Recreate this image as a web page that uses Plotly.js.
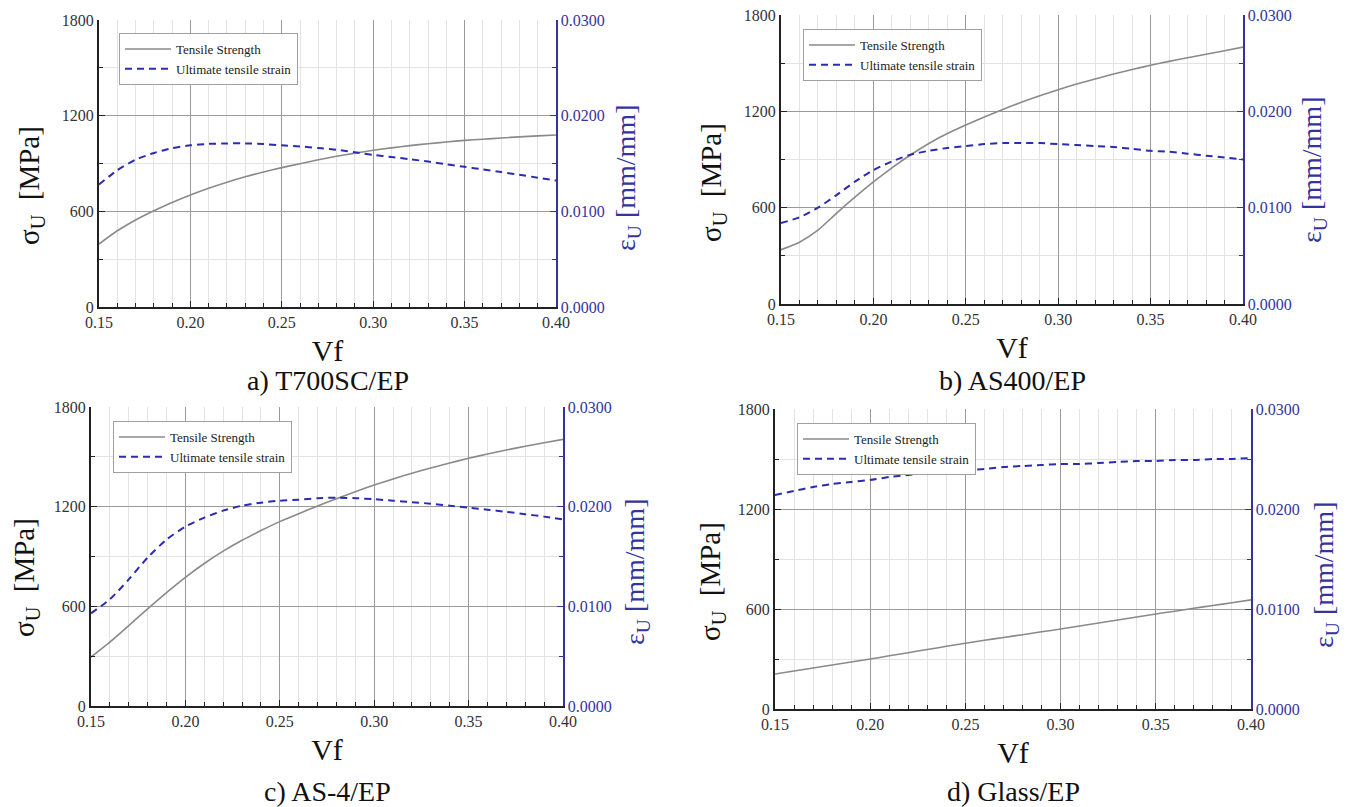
<!DOCTYPE html>
<html><head><meta charset="utf-8">
<script src="https://cdn.plot.ly/plotly-3.0.1.min.js"></script>
<style>html,body{margin:0;padding:0;background:#fff}</style>
</head><body><div id="chart" style="width:1356px;height:807px"></div>
<script>
// ---------------- data ----------------
const vf = [0.15,0.16,0.17,0.18,0.19,0.20,0.21,0.22,0.23,0.24,0.25,0.26,0.27,0.28,0.29,0.30,0.31,0.32,0.33,0.34,0.35,0.36,0.37,0.38,0.39,0.40];

const strengthA = [395,478,546,604,656,703,745,783,817,847,874,899,923,945,965,983,998,1012,1024,1035,1045,1052,1060,1067,1073,1079];
const strainA   = [0.0128,0.0143,0.0154,0.0161,0.0166,0.0169,0.01705,0.0171,0.0171,0.01703,0.0169,0.01678,0.01662,0.01643,0.01618,0.0159,0.01568,0.01545,0.0152,0.01492,0.01465,0.01438,0.0141,0.01382,0.01352,0.01322];

const strengthB = [338,385,460,565,665,760,848,928,1000,1062,1115,1165,1212,1256,1297,1335,1370,1402,1432,1460,1487,1511,1534,1556,1577,1600];
const strainB   = [0.0084,0.0090,0.0100,0.0113,0.0127,0.0139,0.0148,0.0155,0.0159,0.0162,0.0164,0.0166,0.0167,0.0167,0.0167,0.0166,0.0165,0.0164,0.0163,0.0161,0.0159,0.0158,0.0156,0.0154,0.0152,0.0150];

const strengthC = [295,385,484,585,683,775,858,932,998,1056,1110,1158,1204,1248,1290,1330,1367,1401,1433,1463,1491,1517,1541,1564,1585,1605];
const strainC   = [0.0093,0.0107,0.0127,0.0149,0.0167,0.0180,0.0189,0.0196,0.0201,0.0204,0.0206,0.0207,0.02085,0.0209,0.02085,0.02075,0.0206,0.02045,0.0203,0.0201,0.0199,0.0197,0.01948,0.01925,0.0190,0.01873];

const strengthD = [210,228,246,264,282,300,319,338,357,376,395,412,429,446,463,480,498,516,534,552,570,587,604,621,638,655];
const strainD   = [0.0214,0.0218,0.0222,0.0225,0.0227,0.0229,0.0232,0.0234,0.0236,0.0238,0.0239,0.0240,0.0242,0.0243,0.0244,0.0245,0.0245,0.0246,0.0247,0.0248,0.0248,0.0249,0.0249,0.0250,0.0250,0.0251];

const panelLabels = ['a) T700SC/EP','b) AS400/EP','c) AS-4/EP','d) Glass/EP'];
const seriesNames = ['Tensile Strength','Ultimate tensile strain'];
const xTickVals = [0.15,0.20,0.25,0.30,0.35,0.40];
const xTickText = ['0.15','0.20','0.25','0.30','0.35','0.40'];
const yTickVals = [0,600,1200,1800];
const yTickText = ['0','600','1200','1800'];
const y2TickVals = [0,0.01,0.02,0.03];
const y2TickText = ['0.0000','0.0100','0.0200','0.0300'];
const xTitle = 'Vf';
const yTitle = 'σ<sub>U</sub>  [MPa]';
const y2Title = 'ε<sub>U</sub> [mm/mm]';

// ---------------- layout ----------------
const W = 1356, H = 807;
// pixel boxes [left, right, top, bottom] of each panel
const boxes = [[99,556,20,307],[781,1243,15,304],[91,563,407,706],[775,1251,409,709]];
const legendPos = [[119,33],[803,29],[113,421],[797,423]];
// pixel centres of the rotated y titles: [leftX, leftY, rightX, rightY]
const yTitlePos = [[31,186,628,178],[713,182,1314,170],[26,578,636,572],[712,582,1325,575]];
const strength = [strengthA,strengthB,strengthC,strengthD];
const strain = [strainA,strainB,strainC,strainD];

const SERIF = 'Liberation Serif';
const BLUE = '#34349c';
const traces = [];
const layout = {
  width: W, height: H, margin:{l:0,r:0,t:0,b:0},
  paper_bgcolor:'#fff', plot_bgcolor:'#fff',
  font:{family:SERIF, size:15, color:'#333'},
  annotations: [], showlegend:true
};

for (let i=0;i<4;i++){
  const [l,r,t,b] = boxes[i];
  const xd = [l/W, r/W], yd = [1-b/H, 1-t/H];
  const xn = i===0?'x':'x'+(i+1);
  const yL = i===0?'y':'y'+(2*i+1);
  const yR = 'y'+(2*i+2);
  const xk = i===0?'xaxis':'xaxis'+(i+1);
  const yLk = i===0?'yaxis':'yaxis'+(2*i+1);
  const yRk = 'yaxis'+(2*i+2);
  const lg = i===0?'legend':'legend'+(i+1);

  traces.push({x:vf, y:strength[i], xaxis:xn, yaxis:yL, type:'scatter', mode:'lines',
    name:seriesNames[0], legend:lg, line:{color:'#8a8a8a', width:1.6, shape:'spline', smoothing:0.6}});
  traces.push({x:vf, y:strain[i], xaxis:xn, yaxis:yR, type:'scatter', mode:'lines',
    name:seriesNames[1], legend:lg, line:{color:'#2b2bb3', width:2, dash:'7px,5px', shape:'spline', smoothing:0.6}});

  layout[xk] = {domain:xd, anchor:yL, range:[0.15,0.40], tickvals:xTickVals, ticktext:xTickText,
    showline:true, linecolor:'#222', linewidth:2, ticks:'inside', ticklen:6, tickcolor:'#222',
    showgrid:true, gridcolor:'#9a9a9a', gridwidth:1, zeroline:false,
    minor:{dtick:0.01, tick0:0.15, ticks:'inside', ticklen:4, tickcolor:'#222', showgrid:true, gridcolor:'#e3e3e3', gridwidth:1},
    tickfont:{family:SERIF, size:16, color:'#333'},
    title:{text:xTitle, font:{family:SERIF, size:30, color:'#111'}, standoff:10}};
  layout[yLk] = {domain:yd, anchor:xn, range:[0,1800], tickvals:yTickVals, ticktext:yTickText,
    showline:true, linecolor:'#222', linewidth:2, ticks:'inside', ticklen:6, tickcolor:'#222',
    showgrid:true, gridcolor:'#9a9a9a', gridwidth:1, zeroline:false,
    minor:{dtick:300, ticks:'inside', ticklen:4, tickcolor:'#222', showgrid:true, gridcolor:'#e3e3e3', gridwidth:1},
    tickfont:{family:SERIF, size:16, color:'#333'}};
  layout[yRk] = {overlaying:yL, side:'right', anchor:xn, range:[0,0.03], tickvals:y2TickVals, ticktext:y2TickText,
    showline:true, linecolor:BLUE, linewidth:1.5, ticks:'inside', ticklen:6, tickcolor:BLUE,
    showgrid:false, zeroline:false,
    minor:{dtick:0.005, ticks:'inside', ticklen:4, tickcolor:BLUE, showgrid:false},
    tickfont:{family:SERIF, size:16, color:BLUE}};
  layout[lg] = {x:legendPos[i][0]/W, y:1-legendPos[i][1]/H, xanchor:'left', yanchor:'top',
    bgcolor:'#fff', bordercolor:'#a0a0a0', borderwidth:1, font:{family:SERIF, size:13, color:'#222'},
    tracegroupgap:0, itemwidth:46};
  const [lx,ly,rx,ry] = yTitlePos[i];
  layout.annotations.push({text:yTitle, xref:'paper', yref:'paper', x:lx/W, y:1-ly/H,
    xanchor:'center', yanchor:'middle', textangle:-90, showarrow:false,
    font:{family:SERIF, size:29, color:'#111'}});
  layout.annotations.push({text:y2Title, xref:'paper', yref:'paper', x:rx/W, y:1-ry/H,
    xanchor:'center', yanchor:'middle', textangle:-90, showarrow:false,
    font:{family:SERIF, size:28, color:BLUE}});
  layout.annotations.push({text:panelLabels[i], xref:'paper', yref:'paper',
    x:(l+r)/2/W, y:1-(i<2?380:791)/H, xanchor:'center', yanchor:'middle', showarrow:false,
    font:{family:SERIF, size:28, color:'#111'}});
}

Plotly.newPlot('chart', traces, layout, {displayModeBar:false, staticPlot:true});
</script></body></html>
